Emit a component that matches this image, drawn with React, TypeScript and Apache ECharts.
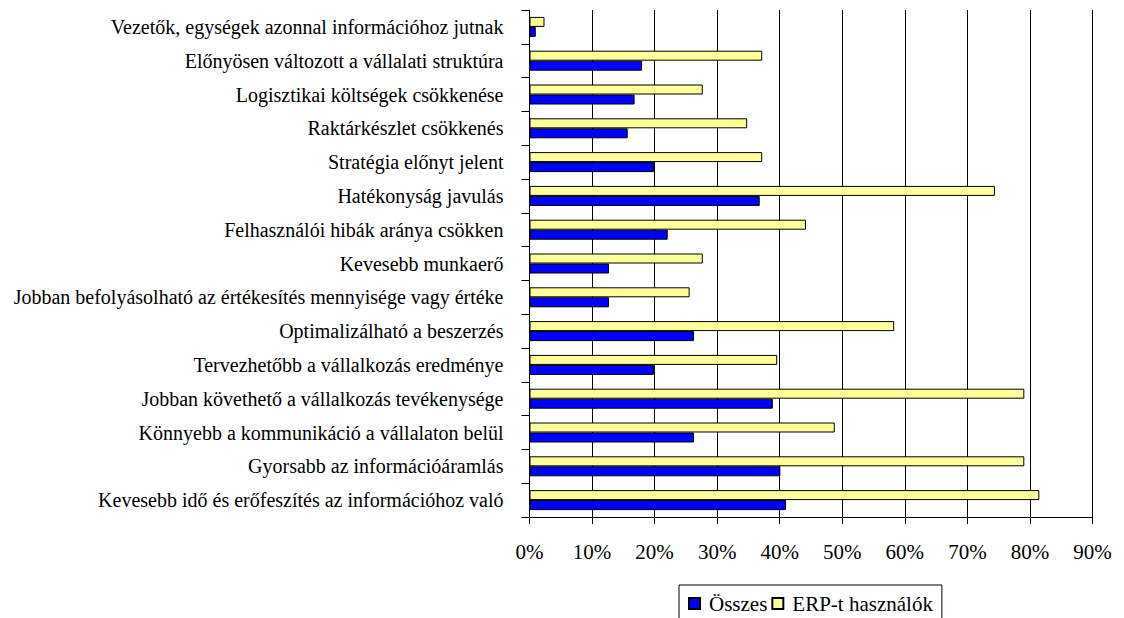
import React, { useEffect, useRef } from "react";
import * as echarts from "echarts";

const categories = [
  "Vezetők, egységek azonnal információhoz jutnak",
  "Előnyösen változott a vállalati struktúra",
  "Logisztikai költségek csökkenése",
  "Raktárkészlet csökkenés",
  "Stratégia előnyt jelent",
  "Hatékonyság javulás",
  "Felhasználói hibák aránya csökken",
  "Kevesebb munkaerő",
  "Jobban befolyásolható az értékesítés mennyisége vagy értéke",
  "Optimalizálható a beszerzés",
  "Tervezhetőbb a vállalkozás eredménye",
  "Jobban követhető a vállalkozás tevékenysége",
  "Könnyebb a kommunikáció a vállalaton belül",
  "Gyorsabb az információáramlás",
  "Kevesebb idő és erőfeszítés az információhoz való",
];

const osszes = [1.0, 18.0, 16.8, 15.7, 19.9, 36.8, 22.1, 12.7, 12.7, 26.3, 19.9, 38.9, 26.3, 40.1, 41.0];
const erp = [2.4, 37.2, 27.7, 34.8, 37.2, 74.4, 44.2, 27.7, 25.6, 58.3, 39.6, 79.1, 48.8, 79.1, 81.5];

const seriesNames = ["Összes", "ERP-t használók"];
const xTicks = { min: 0, max: 90, interval: 10 };

const FONT = "serif";

export default function App() {
  const ref = useRef<HTMLDivElement>(null);
  useEffect(() => {
    document.body.style.margin = "0";
    const chart = echarts.init(ref.current!, null, { renderer: "svg" });
    chart.setOption({
      animation: false,
      backgroundColor: "#ffffff",
      textStyle: { fontFamily: FONT },
      grid: { left: 529.5, top: 10, width: 563, height: 507, containLabel: false },
      legend: {
        data: seriesNames,
        left: 679,
        top: 585,
        orient: "horizontal",
        itemWidth: 11,
        itemHeight: 11,
        itemGap: 4,
        padding: [8, 9, 8, 9],
        borderColor: "#000",
        borderWidth: 1,
        icon: "rect",
        textStyle: { fontFamily: FONT, fontSize: 21, color: "#000", padding: [0, 0, 0, 4] },
      },
      xAxis: {
        type: "value",
        min: xTicks.min,
        max: xTicks.max,
        interval: xTicks.interval,
        axisLine: { show: true, lineStyle: { color: "#000", width: 1 } },
        axisTick: { show: true, length: 7, lineStyle: { color: "#000" } },
        splitLine: { show: true, lineStyle: { color: "#000", width: 1 } },
        axisLabel: {
          formatter: "{value}%",
          fontFamily: FONT,
          fontSize: 21,
          color: "#000",
          margin: 24,
        },
      },
      yAxis: {
        type: "category",
        data: categories,
        inverse: true,
        axisLine: { show: true, lineStyle: { color: "#000", width: 1 } },
        axisTick: { show: true, length: 8, lineStyle: { color: "#000" } },
        axisLabel: { fontFamily: FONT, fontSize: 20, color: "#000", margin: 26 },
      },
      series: [
        {
          name: seriesNames[1],
          type: "bar",
          data: erp,
          barWidth: 10,
          barGap: "0%",
          itemStyle: { color: "#FFFF99", borderColor: "#000", borderWidth: 1 },
        },
        {
          name: seriesNames[0],
          type: "bar",
          data: osszes,
          barWidth: 10,
          barGap: "0%",
          itemStyle: { color: "#0000FF", borderColor: "#000", borderWidth: 1 },
        },
      ],
    });
    return () => chart.dispose();
  }, []);
  return (
    <div
      ref={ref}
      style={{ position: "fixed", left: 0, top: 0, width: 1124, height: 618 }}
    />
  );
}
